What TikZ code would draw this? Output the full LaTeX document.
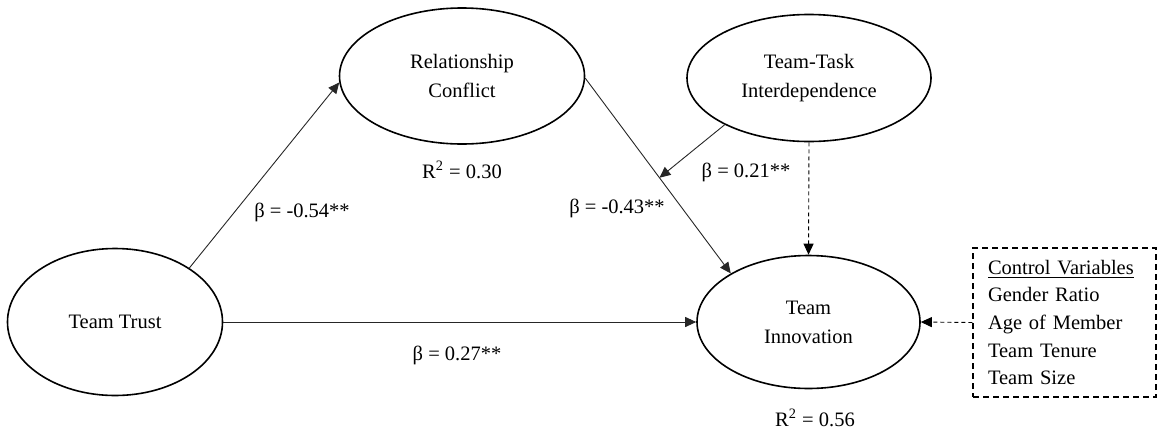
\documentclass[tikz,border=0pt]{standalone}
\usepackage{fontspec}
\setmainfont{Liberation Serif}
\usepackage{tikz}
\usetikzlibrary{shapes}
\usetikzlibrary{arrows.meta}
\usetikzlibrary{calc}

\tikzset{
  latent/.style={ellipse, draw, line width=0.8pt, inner sep=0pt, align=center},
  path/.style={draw=black!85, line width=0.45pt, -{Triangle[length=5.5pt,width=5pt]}},
  ctrl/.style={path, draw=black, dash pattern=on 2pt off 1.5pt},
  lbl/.style={inner sep=0.75pt}
}

\begin{document}
\begin{tikzpicture}[x=0.5pt,y=0.5pt,yscale=-1,xscale=1]
\fontsize{10.25}{14.5}\selectfont
\useasboundingbox (0,0) rectangle (1160,429);
% latent variables
\node [latent, minimum width=107.5pt, minimum height=73.5pt] (trust) at (115,322) {Team Trust};
\node [latent, minimum width=122.5pt, minimum height=68pt] (rc) at (462,76) {Relationship\\Conflict};
\node [latent, minimum width=122pt, minimum height=63.5pt] (tti) at (809,78) {Team-Task\\Interdependence};
\node [latent, minimum width=111.5pt, minimum height=66.5pt] (ti) at (808.5,322) {Team\\Innovation};
% controls
\node [draw, line width=0.6pt, dash pattern=on 3pt off 2pt, align=left, text width=76.5pt, inner xsep=7.5pt, minimum height=74.5pt, font=\fontsize{10.25}{13.8}\selectfont] (cv) at (1064.5,322.5) {\underline{Control Variables}\\Gender Ratio\\Age of Member\\Team Tenure\\Team Size};
% paths
\draw [path] (trust.36) -- (rc.183);
\draw [path] (rc.-1) -- (ti.148);
\coordinate (mod) at ($(rc.-1)!0.51!(ti.148)$);
\draw [path] (tti.209) -- (mod);
\draw [path] (trust.east) -- (ti.west);
\draw [ctrl] (tti.south) -- (ti.north);
\draw [ctrl] (cv.west) -- (ti.east);
% coefficients
\node [lbl] (b1) at (302,212) {β = -0.54**};
\node [lbl] (r1) at (462,170) {R\textsuperscript{2} = 0.30};
\node [lbl] (b2) at (617,208) {β = -0.43**};
\node [lbl] (b3) at (746,172) {β = 0.21**};
\node [lbl] (b4) at (457,355) {β = 0.27**};
\node [lbl] (r2) at (815,418) {R\textsuperscript{2} = 0.56};
\end{tikzpicture}
\end{document}
